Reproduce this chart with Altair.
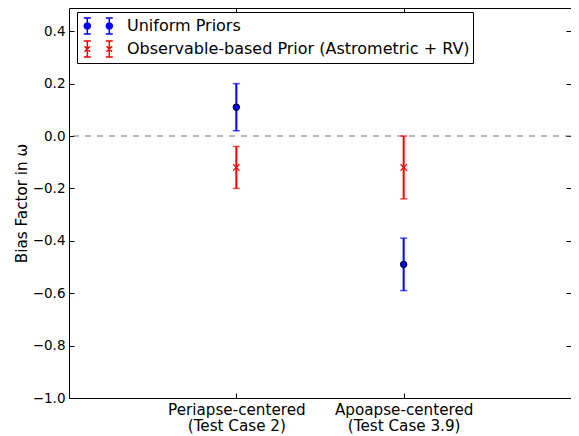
import math
import altair as alt
import pandas as pd

positions = [1, 2]
tick_labels = [["Periapse-centered", "(Test Case 2)"], ["Apoapse-centered", "(Test Case 3.9)"]]
series_names = ["Uniform Priors", "Observable-based Prior (Astrometric + RV)"]
uniform_value = [0.11, -0.49]
uniform_low = [0.02, -0.59]
uniform_high = [0.20, -0.39]
observable_value = [-0.12, -0.12]
observable_low = [-0.20, -0.24]
observable_high = [-0.04, 0.00]
y_ticks = [-1.0, -0.8, -0.6, -0.4, -0.2, 0.0, 0.2, 0.4]

rows = []
for i, p in enumerate(positions):
    rows.append(dict(series=series_names[1], pos=p, val=observable_value[i], lo=observable_low[i], hi=observable_high[i]))
    rows.append(dict(series=series_names[0], pos=p, val=uniform_value[i], lo=uniform_low[i], hi=uniform_high[i]))
df = pd.DataFrame(rows)
legend_df = pd.DataFrame({"series": series_names})

FONT = "DejaVu Sans"
BLUE = "#0000ff"
RED = "#ff0000"
is_uniform = f"datum.series == '{series_names[0]}'"

label_expr = " : ".join(
    f"datum.value == {p} ? {lab!r}" for p, lab in zip(positions, tick_labels)
) + " : ''"

xscale = alt.Scale(domain=[0, 3], nice=False, zero=False)
yscale = alt.Scale(domain=[-1.0, 0.4886], nice=False, zero=False)

x_bottom_axis = alt.Axis(values=positions, labelExpr=label_expr, orient="bottom",
                         offset=-5, tickSize=5, domain=False, grid=False,
                         labelPadding=4, labelFont=FONT, labelFontSize=15.2,
                         labelLineHeight=16.5, labelColor="black", tickColor="black")
y_left_axis = alt.Axis(values=y_ticks, format=".1f",
                       labelExpr="replace(datum.label, '-', '\u2212')",
                       orient="left", offset=-5, tickSize=5, domain=False, grid=False,
                       labelPadding=4, labelFont=FONT, labelFontSize=13.5,
                       labelColor="black", tickColor="black",
                       titleFont=FONT, titleFontSize=15.2, titleFontWeight="normal",
                       titleColor="black", titlePadding=3)
x_top_axis = alt.Axis(values=positions, orient="top", offset=-5, tickSize=5,
                      labels=False, domain=False, grid=False, tickColor="black")
y_right_axis = alt.Axis(values=y_ticks, orient="right", offset=-5, tickSize=5,
                        labels=False, domain=False, grid=False, tickColor="black")

color_cond = alt.condition(is_uniform, alt.value(BLUE), alt.value(RED))

zero_line = alt.Chart(pd.DataFrame({"z": [0.0]})).mark_rule(
    color="#777777", strokeWidth=1, strokeDash=[6, 6]
).encode(y=alt.Y("z:Q", scale=yscale, axis=None))

bars = alt.Chart(df).mark_rule(strokeWidth=2).encode(
    x=alt.X("pos:Q", scale=xscale, title=None, axis=x_bottom_axis),
    y=alt.Y("lo:Q", scale=yscale, title="Bias Factor in ω", axis=y_left_axis),
    y2="hi:Q",
    stroke=color_cond,
)

caps_lo = alt.Chart(df).mark_tick(orient="horizontal", size=7, thickness=1.5).encode(
    x=alt.X("pos:Q", scale=xscale, axis=None),
    y=alt.Y("lo:Q", scale=yscale, axis=None),
    color=color_cond,
)
caps_hi = alt.Chart(df).mark_tick(orient="horizontal", size=7, thickness=1.5).encode(
    x=alt.X("pos:Q", scale=xscale, title=None, axis=x_top_axis),
    y=alt.Y("hi:Q", scale=yscale, title=None, axis=y_right_axis),
    color=color_cond,
)

x_path = "M-1,-1L1,1M-1,1L1,-1"
points = alt.Chart(df).mark_point(opacity=1).encode(
    x=alt.X("pos:Q", scale=xscale, axis=None),
    y=alt.Y("val:Q", scale=yscale, axis=None),
    shape=alt.condition(is_uniform, alt.value("circle"), alt.value(x_path)),
    fill=alt.condition(is_uniform, alt.value(BLUE), alt.value("transparent")),
    stroke=alt.condition(is_uniform, alt.value("black"), alt.value(RED)),
    size=alt.condition(is_uniform, alt.value(42), alt.value(40)),
    strokeWidth=alt.condition(is_uniform, alt.value(1), alt.value(1.2)),
)

# legend symbols: two error-bar handles with markers (unit = 10 px at symbolSize 400)
def handle(cx, marker):
    h = 0.8
    c = 0.35
    bar = f"M{cx},{-h}L{cx},{h}M{cx-c},{-h}L{cx+c},{-h}M{cx-c},{h}L{cx+c},{h}"
    if marker == "circle":
        r = 0.3
        pts = [(cx + r * math.cos(2 * math.pi * k / 16), r * math.sin(2 * math.pi * k / 16)) for k in range(16)]
        m = "M" + "L".join(f"{px:.3f},{py:.3f}" for px, py in pts) + "Z"
    else:
        s = 0.28
        m = f"M{cx-s},{-s}L{cx+s},{s}M{cx-s},{s}L{cx+s},{-s}"
    return bar + m

blue_sym = handle(-0.37, "circle") + handle(1.83, "circle")
red_sym = handle(-0.37, "x") + handle(1.83, "x")

leg = alt.Legend(title=None, orient="none", legendX=8, legendY=4, labelFont=FONT, labelFontSize=16,
                 labelColor="black", strokeColor="black", fillColor="white", padding=3,
                 symbolSize=400, symbolStrokeWidth=1.5, labelOffset=25, rowPadding=1,
                 labelLimit=500, symbolOpacity=1)
legend_layer = alt.Chart(legend_df).mark_point(filled=True).encode(
    fill=alt.Fill("series:N", scale=alt.Scale(domain=series_names, range=[BLUE, RED]), legend=leg),
    stroke=alt.Stroke("series:N", scale=alt.Scale(domain=series_names, range=[BLUE, RED]), legend=leg),
    shape=alt.Shape("series:N", scale=alt.Scale(domain=series_names, range=[blue_sym, red_sym]), legend=leg),
).transform_filter("false")

chart = alt.layer(zero_line, bars, caps_lo, caps_hi, points, legend_layer).resolve_axis(
    x="independent", y="independent"
).properties(
    width=502, height=390,
    autosize=alt.AutoSizeParams(type="none"),
    padding={"left": 61, "top": 0, "right": 0, "bottom": 38},
).configure_view(stroke="black", strokeWidth=1)

chart.save("out.html", embed_options={"renderer": "svg", "actions": False})
